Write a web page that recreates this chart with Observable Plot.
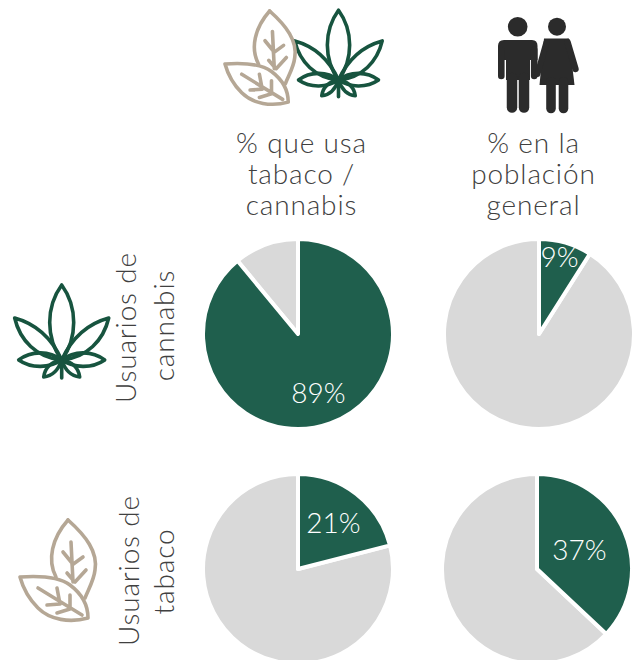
<!DOCTYPE html>
<html lang="es"><head><meta charset="utf-8">
<script src="https://cdn.jsdelivr.net/npm/d3@7"></script>
<script src="https://cdn.jsdelivr.net/npm/@observablehq/plot@0.6"></script>
<style>html,body{margin:0;padding:0;background:#fff}svg{display:block}.wide text,text.wide,.wide{letter-spacing:.85px}</style>
</head><body><div id="chart"></div>
<script>
// Data
const panelRows = ["Usuarios de cannabis","Usuarios de cannabis","Usuarios de tabaco","Usuarios de tabaco"];
const panelCols = ["% que usa tabaco / cannabis","% en la población general","% que usa tabaco / cannabis","% en la población general"];
const shares = [89, 9, 21, 37];
const shareLabels = ["89%","9%","21%","37%"];
const headerLines = ["% que usa","tabaco /","cannabis","% en la","población","general"];
const rowLines = ["Usuarios de","cannabis","Usuarios de","tabaco"];

// Layout
const GREEN="#1F5F4D", LEAF="#17543F", GREY="#D9D9D9", TAN="#B5A795", INK="#404040", BLACK="#2B2B2B";
const FONT="Lato, sans-serif";
const pieX=[298,539,298,537], pieY=[334,334,569,569];
const labelX=[318,559,333,579], labelY=[394,258,524,551];
const headerX=[301,301,301,533,533,533], headerY=[144,175,206,144,175,206];
const rowX=[127,165,130,165], rowY=[327,325,570,571];

const panels = shares.map((v,i)=>({row:panelRows[i],col:panelCols[i],value:v,cx:pieX[i],cy:pieY[i],label:shareLabels[i],lx:labelX[i],ly:labelY[i]}));
const headers = headerLines.map((t,i)=>({t,x:headerX[i],y:headerY[i]}));
const rowsText = rowLines.map((t,i)=>({t,x:rowX[i],y:rowY[i]}));

// Icons: local outline paths
const cannabisPaths = [
  "M0,0C-16,-22 -16,-53 0,-75C16,-53 16,-22 0,0Z",
  "M0,0C-10,-22 -25,-36 -47,-42C-42,-20 -25,-2 0,0Z",
  "M0,0C10,-22 25,-36 47,-42C42,-20 25,-2 0,0Z",
  "M0,0C-12,-9 -30,-10 -43,0C-30,9 -12,8 0,0Z",
  "M0,0C12,-9 30,-10 43,0C30,9 12,8 0,0Z",
  "M0,0C-10,1 -17,8 -18,17C-9,16 -3,9 0,0Z",
  "M0,0C10,1 17,8 18,17C9,16 3,9 0,0Z",
  "M0,0V18"
];
const tobaccoPaths = [
  "M48,0C32,18 27,40 36,57",
  "M48,0C66,16 78,32 75,50C74,60 69,68 65,78",
  "M0,57C14,56 38,56 50,65C62,74 68,85 68,98C50,103 30,100 18,88C10,80 3,68 0,57Z",
  "M18,68L62,95M37,68L40,84M50,75L50,88M27,85L40,84M37,93L50,89",
  "M51,22L53,62M43,32L52,43M63,37L52,45M47,53L53,60M66,50L55,62"
];

function pies(index, {x, y}) {
  const g = d3.create("svg:g");
  const angle = d3.scaleLinear([0,100],[0,2*Math.PI]);
  const arc = d3.arc().innerRadius(0).outerRadius(95);
  for (const p of panels) {
    const a = angle(p.value);
    const c = g.append("g").attr("transform",`translate(${x(p.cx)},${y(p.cy)})`);
    c.append("path").attr("fill",GREY).attr("stroke","#fff").attr("stroke-width",4).attr("stroke-linejoin","round")
      .attr("d",arc({startAngle:a,endAngle:2*Math.PI}));
    c.append("path").attr("fill",GREEN).attr("stroke","#fff").attr("stroke-width",4).attr("stroke-linejoin","round")
      .attr("d",arc({startAngle:0,endAngle:a}));
  }
  return g.node();
}
function icon(paths, color, tx, ty, k) {
  return (index, {x, y}) => {
    const g = d3.create("svg:g").attr("transform",`translate(${x(tx)},${y(ty)}) scale(${k})`)
      .attr("fill","none").attr("stroke",color).attr("stroke-width",3.6/k).attr("stroke-linejoin","round").attr("stroke-linecap","round");
    for (const d of paths) g.append("path").attr("d",d);
    return g.node();
  };
}
function people(index, {x, y}) {
  const g = d3.create("svg:g").attr("transform",`translate(${x(0)},${y(0)})`);
  const line = (d,w)=>g.append("path").attr("d",d).attr("fill","none").attr("stroke",BLACK).attr("stroke-width",w).attr("stroke-linecap","round").attr("stroke-linejoin","round");
  const fill = d=>g.append("path").attr("d",d).attr("fill",BLACK);
  g.append("circle").attr("cx",517.7).attr("cy",26.7).attr("r",9.8).attr("fill",BLACK);
  g.append("circle").attr("cx",557).attr("cy",26.7).attr("r",9).attr("fill",BLACK);
  // man
  fill("M504,40H532Q537.5,40 537.5,46V60H498V46Q498,40 504,40Z");
  line("M501.3,50V76",6.6);
  line("M534.2,50V76",6.6);
  fill("M506,48H530V80H506Z");
  line("M512,78V107.5",10.5);
  line("M524,78V107.5",10.5);
  // woman
  fill("M544,38.5H569L574.5,85H539.5Z");
  line("M567.5,42L575.5,69",6.4);
  line("M546.5,42L537.5,74",6);
  line("M551,82V108.5",9.6);
  line("M563.5,82V108.5",9.6);
  return g.node();
}

const chart = Plot.plot({
  width:634, height:660, margin:0,
  style:{background:"#fff"},
  x:{domain:[0,634],range:[0,634],axis:null},
  y:{domain:[0,660],range:[0,660],axis:null},
  marks:[
    pies,
    icon(cannabisPaths,LEAF,338.5,80,0.93),
    icon(tobaccoPaths,TAN,225,11,0.93),
    icon(cannabisPaths,LEAF,61.7,360,1),
    icon(tobaccoPaths,TAN,20,520,1),
    people,
    Plot.text(panels,{x:"lx",y:"ly",text:"label",fill:"#fff",fontSize:28,fontWeight:300,fontFamily:FONT}),
    Plot.text(headers,{x:"x",y:"y",text:"t",fill:INK,fontSize:28,fontWeight:300,fontFamily:FONT,className:"wide"}),
    Plot.text(rowsText,{x:"x",y:"y",text:"t",rotate:-90,fill:INK,fontSize:28,fontWeight:300,fontFamily:FONT,className:"wide"})
  ]
});
document.getElementById("chart").append(chart);
</script></body></html>
